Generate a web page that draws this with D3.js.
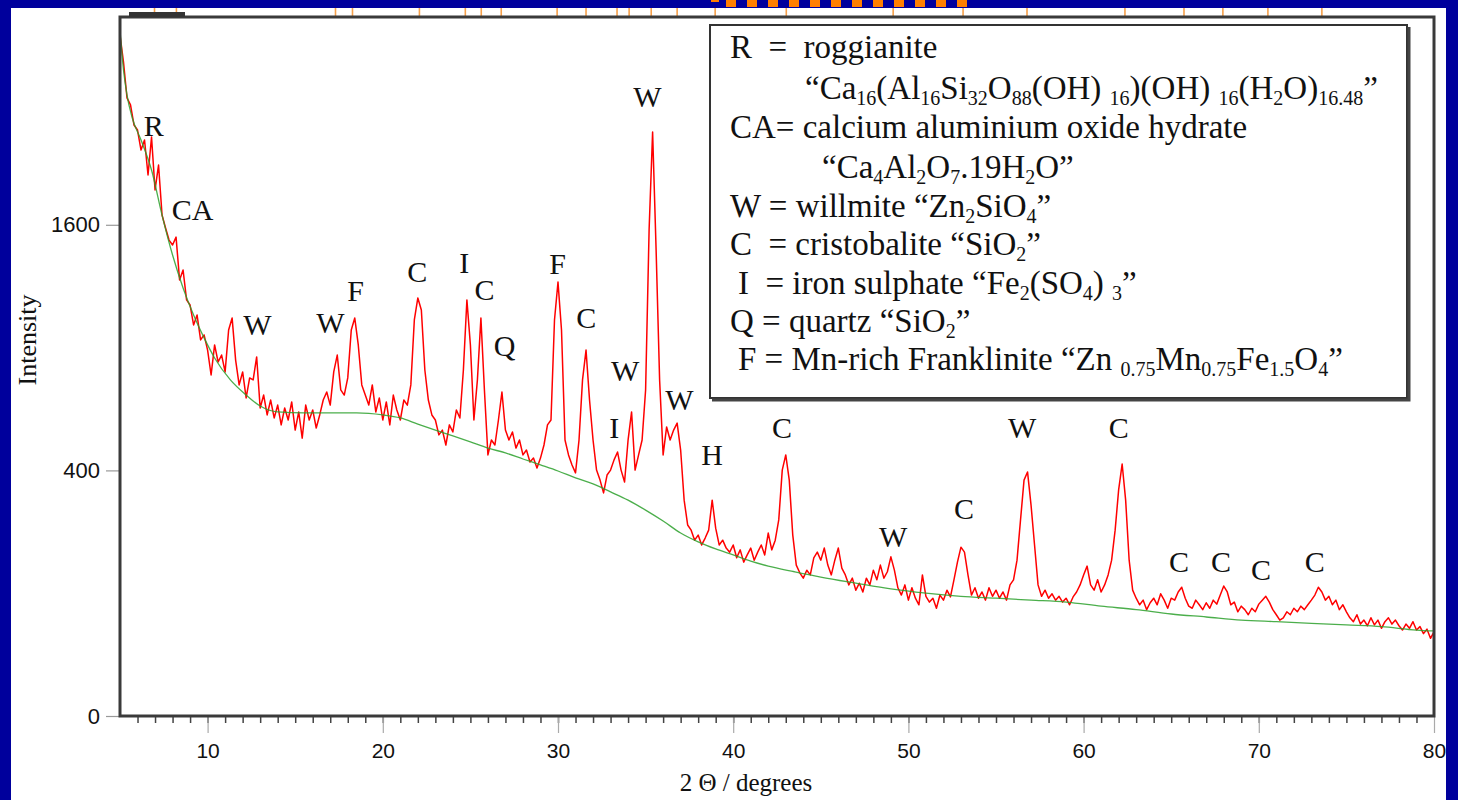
<!doctype html>
<html lang="en">
  <head>
    <meta charset="utf-8">
    <title>XRD pattern</title>
    <script src="https://d3js.org/d3.v7.min.js"></script>
    <style>
      body { margin: 0; background: #00009c; }
      svg { display: block; }
      text { white-space: pre; }
    </style>
  </head>
  <body>
    <div id="container"></div>
  <script>
    // measured pattern: step scan from 5 degrees, 0.2 degree step
    const twoThetaStart = 5
    const twoThetaStep = 0.2
    const counts = [
      3075, 2836, 2533, 2476, 2316, 2277, 2124, 2200, 1941, 2223, 1835, 2013, 1664, 1579, 1502, 1471, 1521, 1261, 1319, 1148, 1120, 1014, 1066, 938, 963, 888,
      771, 913, 831, 864, 785, 988, 1050, 840, 727, 785, 671, 758, 749, 855, 629, 683, 601, 662, 589, 641, 562, 629, 581, 654, 542,
      613, 512, 641, 581, 621, 550, 601, 662, 696, 641, 785, 864, 705, 683, 758, 988, 1050, 913, 727, 683, 641, 727, 613, 671, 581,
      654, 562, 683, 621, 581, 662, 641, 727, 1040, 1159, 1093, 794, 662, 601, 581, 524, 542, 487, 562, 535, 621, 589, 794, 1148, 913,
      581, 749, 1050, 705, 452, 505, 487, 581, 696, 542, 505, 535, 476, 505, 452, 469, 428, 441, 408, 441, 487, 562, 581, 1040, 1249,
      988, 505, 452, 418, 392, 505, 749, 888, 662, 505, 401, 369, 330, 385, 401, 435, 462, 401, 363, 505, 613, 401, 452, 505, 705,
      1566, 2262, 1440, 749, 452, 554, 505, 542, 569, 469, 309, 242, 229, 205, 217, 194, 210, 229, 309, 234, 194, 205, 187, 178, 194,
      166, 183, 157, 172, 187, 161, 178, 194, 172, 222, 183, 205, 255, 401, 452, 369, 217, 151, 136, 126, 141, 132, 166, 178, 161,
      187, 151, 132, 161, 187, 145, 132, 114, 126, 105, 117, 102, 126, 114, 141, 123, 151, 126, 138, 168, 141, 109, 97, 114, 89,
      109, 92, 82, 132, 95, 86, 92, 77, 97, 89, 105, 94, 123, 157, 189, 178, 132, 97, 109, 92, 102, 89, 109, 95, 105,
      92, 102, 89, 114, 123, 161, 255, 369, 395, 295, 194, 114, 95, 105, 92, 99, 89, 95, 86, 92, 82, 94, 102, 114, 132,
      149, 114, 105, 123, 102, 114, 132, 161, 229, 339, 421, 309, 161, 105, 92, 82, 89, 75, 85, 92, 82, 99, 89, 77, 92,
      89, 102, 110, 92, 80, 77, 89, 82, 75, 85, 77, 89, 83, 97, 112, 102, 82, 86, 72, 80, 75, 68, 77, 72, 83,
      89, 95, 86, 75, 68, 61, 64, 72, 68, 77, 72, 80, 75, 82, 89, 97, 110, 102, 89, 95, 82, 89, 75, 82, 72,
      64, 59, 68, 56, 61, 54, 64, 55, 61, 51, 59, 64, 56, 61, 54, 49, 56, 51, 59, 49, 53, 45, 50, 40, 47
    ]

    // fitted background
    const backgroundTwoTheta = [5, 5.2, 5.4, 5.7, 6.2, 6.8, 7.4, 8, 8.6, 9.2, 9.8, 10.4, 11.3, 12.2, 13, 14, 15.5, 17, 18.5, 20, 21, 22, 23, 24, 25, 26, 27, 28, 29, 30, 31, 32, 33, 34, 35, 36, 37, 38, 39, 40, 41, 42, 43.5, 45, 47, 49, 51, 53, 55, 57, 59, 61, 63, 65, 67, 69, 71, 73, 75, 77, 79, 80]
    const backgroundCounts = [3121, 2767, 2557, 2371, 2200, 1977, 1664, 1409, 1215, 1066, 948, 850, 749, 683, 637, 613, 609, 609, 609, 601, 589, 565, 542, 520, 498, 476, 459, 438, 418, 398, 376, 357, 333, 309, 281, 252, 222, 201, 185, 172, 159, 149, 138, 128, 117, 107, 100, 95, 92, 89, 86, 80, 75, 69, 65, 61, 59, 57, 55, 53, 49, 48]

    // phase labels on the peaks
    const peakLabels = ["R", "CA", "W", "W", "F", "C", "I", "C", "Q", "F", "C", "W", "I", "W", "W", "H", "C", "W", "C", "W", "C", "C", "C", "C", "C"]
    const peakLabelTwoTheta = [6.92, 9.14, 12.85, 17.01, 18.44, 21.97, 24.65, 25.8, 26.95, 29.97, 31.62, 33.84, 33.21, 35.1, 36.93, 38.8, 42.79, 49.13, 53.18, 56.49, 62.0, 65.45, 67.85, 70.13, 73.2]
    const peakLabelCounts = [2231, 1631, 963, 973, 1142, 1249, 1301, 1148, 859, 1296, 998, 744, 512, 2459, 621, 418, 512, 189, 257, 512, 512, 138, 138, 122, 138]

    // reference line markers along the top
    const markerTwoTheta = [6.97, 8.22, 17.3, 18.27, 22.09, 24.71, 25.62, 26.76, 29.95, 31.6, 33.37, 34.06, 35.32, 36.8, 38.97, 43.03, 49.13, 53.12, 56.77, 62.36, 65.73, 67.95, 70.52, 73.6]

    const xTicks = [10, 20, 30, 40, 50, 60, 70, 80]
    const yTicks = [0, 400, 1600]

    const legendLines = [
      {x: 730, text: "R  =  roggianite"},
      {x: 805, text: "“Ca_{16}(Al_{16}Si_{32}O_{88}(OH) _{16})(OH) _{16}(H_{2}O)_{16.48}”"},
      {x: 730, text: "CA= calcium aluminium oxide hydrate"},
      {x: 822, text: "“Ca_{4}Al_{2}O_{7}.19H_{2}O”"},
      {x: 730, text: "W = willmite “Zn_{2}SiO_{4}”"},
      {x: 730, text: "C  = cristobalite “SiO_{2}”"},
      {x: 738, text: "I  = iron sulphate “Fe_{2}(SO_{4}) _{3}”"},
      {x: 730, text: "Q = quartz “SiO_{2}”"},
      {x: 738, text: "F = Mn-rich Franklinite “Zn _{0.75}Mn_{0.75}Fe_{1.5}O_{4}”"}
    ]

    const width = 1458
    const height = 800
    const plot = {left: 120, right: 1434, top: 17, bottom: 716}
    const serif = "'Liberation Serif', 'Times New Roman', serif"
    const sans = "'Liberation Sans', Arial, sans-serif"

    const svg = d3.select("#container")
      .append("svg")
        .attr("width", width)
        .attr("height", height)

    // white panel inside the blue slide border
    svg.append("rect")
      .attr("x", 11).attr("y", 8)
      .attr("width", 1435).attr("height", height - 8)
      .attr("fill", "white")

    // orange dashes on the slide edge
    svg.append("rect").attr("x", 711).attr("y", 0).attr("width", 8).attr("height", 2).attr("fill", "#ff7f00")
    for (let i = 0; i < 12; i++) {
      svg.append("rect")
        .attr("x", 726 + i * 21).attr("y", 0)
        .attr("width", 10).attr("height", 7)
        .attr("fill", "#ff7f00")
    }

    const x = d3.scaleLinear().domain([5, 80]).range([plot.left, plot.right])
    const y = d3.scaleSqrt().domain([0, 3240]).range([plot.bottom, plot.top])

    // reference markers
    svg.append("g")
      .selectAll("line")
      .data(markerTwoTheta)
      .join("line")
        .attr("x1", d => x(d)).attr("x2", d => x(d))
        .attr("y1", 8).attr("y2", plot.top)
        .attr("stroke", "#f6a04a")
        .attr("stroke-width", 1.6)

    // x axis: minor and major ticks
    svg.append("g")
      .attr("transform", `translate(0,${plot.bottom})`)
      .call(d3.axisBottom(x).tickValues(d3.range(6, 80)).tickSize(7).tickFormat(""))
      .call(g => g.select(".domain").remove())
      .call(g => g.selectAll("line").attr("stroke", "#444").attr("stroke-width", 1.5))

    svg.append("g")
      .attr("transform", `translate(0,${plot.bottom})`)
      .call(d3.axisBottom(x).tickValues(xTicks).tickSize(17).tickPadding(10))
      .call(g => g.select(".domain").remove())
      .call(g => g.selectAll("line").attr("stroke", "#aaa").attr("stroke-width", 1.2))
      .call(g => g.selectAll("text").attr("font-family", sans).attr("font-size", 21).attr("fill", "#111"))

    svg.append("g")
      .attr("transform", `translate(${plot.left},0)`)
      .call(d3.axisLeft(y).tickValues(yTicks).tickSize(14).tickPadding(6).tickFormat(d3.format("d")))
      .call(g => g.select(".domain").remove())
      .call(g => g.selectAll("line").attr("stroke", "#999").attr("stroke-width", 1.2))
      .call(g => g.selectAll("text").attr("font-family", sans).attr("font-size", 22).attr("fill", "#111"))

    // data lines
    const pattern = d3.line()
      .x((d, i) => x(twoThetaStart + i * twoThetaStep))
      .y(d => y(d))

    svg.append("path")
      .attr("d", pattern(counts))
      .attr("fill", "none")
      .attr("stroke", "#ff0000")
      .attr("stroke-width", 1.5)
      .attr("stroke-linejoin", "round")

    const background = d3.line()
      .x((d, i) => x(backgroundTwoTheta[i]))
      .y(d => y(d))
      .curve(d3.curveMonotoneX)

    svg.append("path")
      .attr("d", background(backgroundCounts))
      .attr("fill", "none")
      .attr("stroke", "#2ca02c")
      .attr("stroke-width", 1.3)
      .attr("opacity", 0.85)

    // plot frame
    svg.append("rect")
      .attr("x", plot.left).attr("y", plot.top)
      .attr("width", plot.right - plot.left).attr("height", plot.bottom - plot.top)
      .attr("fill", "none")
      .attr("stroke", "#3a3a3a")
      .attr("stroke-width", 3)
    svg.append("rect")
      .attr("x", 129).attr("y", 12).attr("width", 56).attr("height", 5)
      .attr("fill", "#333")

    // peak labels
    svg.append("g")
      .selectAll("text")
      .data(peakLabels)
      .join("text")
        .attr("x", (d, i) => x(peakLabelTwoTheta[i]))
        .attr("y", (d, i) => y(peakLabelCounts[i]))
        .attr("text-anchor", "middle")
        .attr("font-family", serif)
        .attr("font-size", 30)
        .attr("fill", "#111")
        .text(d => d)

    // axis titles
    svg.append("text")
      .attr("x", 746).attr("y", 791)
      .attr("text-anchor", "middle")
      .attr("font-family", serif)
      .attr("font-size", 25)
      .attr("fill", "#111")
      .text("2 Θ / degrees")

    svg.append("text")
      .attr("transform", "translate(36,340) rotate(-90)")
      .attr("text-anchor", "middle")
      .attr("font-family", serif)
      .attr("font-size", 26)
      .attr("fill", "#111")
      .text("Intensity")

    // legend box with a heavier right and bottom edge
    const legend = svg.append("g")
    legend.append("rect")
      .attr("x", 710).attr("y", 25)
      .attr("width", 697).attr("height", 373)
      .attr("fill", "white")
      .attr("stroke", "#333")
      .attr("stroke-width", 2)
    legend.append("path")
      .attr("d", "M1409,27V400H712")
      .attr("fill", "none")
      .attr("stroke", "#444")
      .attr("stroke-width", 3)

    function addRichText(g, xPos, yPos, str, size) {
      const t = g.append("text")
        .attr("x", xPos).attr("y", yPos)
        .attr("font-family", serif)
        .attr("font-size", size)
        .attr("fill", "#111")
      const subShift = Math.round(size * 0.17)
      let shifted = false
      str.split(/(_\{[^}]*\})/).forEach(p => {
        if (!p) return
        if (p.startsWith("_{")) {
          t.append("tspan")
            .attr("dy", shifted ? 0 : subShift)
            .attr("font-size", Math.round(size * 0.6))
            .text(p.slice(2, -1))
          shifted = true
        } else {
          t.append("tspan")
            .attr("dy", shifted ? -subShift : 0)
            .text(p)
          shifted = false
        }
      })
    }

    const legendBaselines = [58, 99, 138, 178, 217, 255, 294, 332, 370]
    legendLines.forEach((line, i) => addRichText(legend, line.x, legendBaselines[i], line.text, 33))
  </script>
  </body>
</html>
